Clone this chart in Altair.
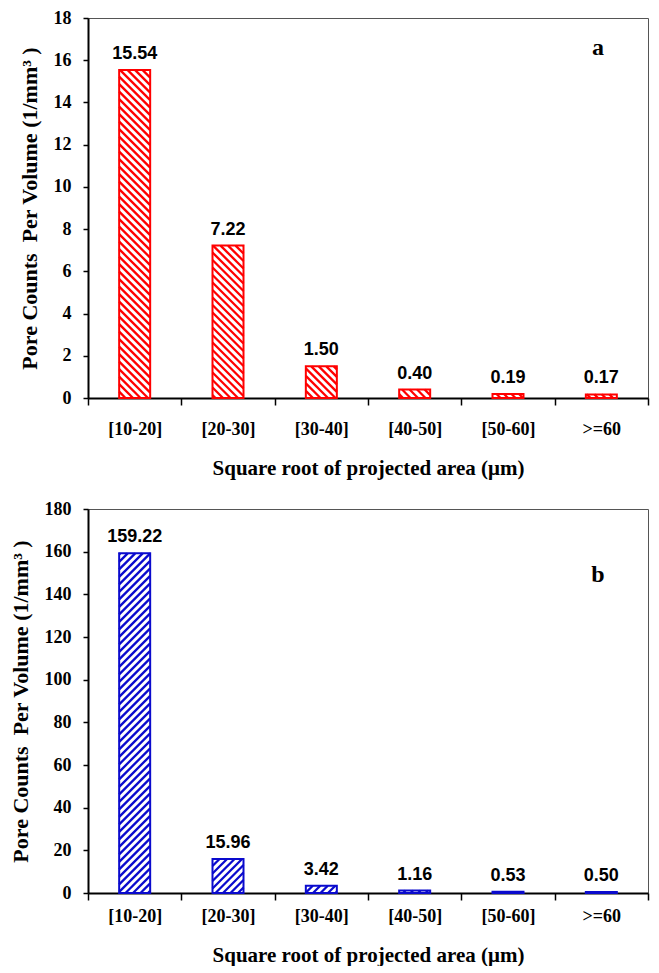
import math
import altair as alt
import pandas as pd

categories = ["[10-20]", "[20-30]", "[30-40]", "[40-50]", "[50-60]", ">=60"]
values_a = [15.54, 7.22, 1.50, 0.40, 0.19, 0.17]
values_b = [159.22, 15.96, 3.42, 1.16, 0.53, 0.50]
labels_a = ["15.54", "7.22", "1.50", "0.40", "0.19", "0.17"]
labels_b = ["159.22", "15.96", "3.42", "1.16", "0.53", "0.50"]
yticks_a = [0, 2, 4, 6, 8, 10, 12, 14, 16, 18]
yticks_b = [0, 20, 40, 60, 80, 100, 120, 140, 160, 180]

Y_TITLE = "Pore Counts \u00a0Per Volume (1/mm³ )"
X_TITLE = "Square root of projected area (μm)"

BAR_PX = 31
SERIF = "Liberation Serif"
SANS = "Liberation Sans"


def hatch_rows(values, W, H, ymax, direction, period=7.5):
    """Diagonal hatch segments inside each bar, converted back to data units."""
    n = len(values)
    step = W / n
    half = BAR_PX / 2
    rows = []
    for i, v in enumerate(values):
        a = (i + 0.5) * step - half
        b = (i + 0.5) * step + half
        t = v * H / ymax
        if direction == "back":  # "\" : x + y = c (y up)
            k0 = math.floor(a / period) + 1
            k1 = math.ceil((b + t) / period)
            for k in range(k0, k1):
                c = k * period
                xs, xe = max(a, c - t), min(b, c)
                if xe > xs:
                    rows.append({"hx": xs / step, "hx2": xe / step,
                                 "v": (c - xs) * ymax / H, "v2": (c - xe) * ymax / H})
        else:  # "/" : y = x + c
            k0 = math.floor(-b / period) + 1
            k1 = math.ceil((t - a) / period)
            for k in range(k0, k1):
                c = k * period
                xs, xe = max(a, -c), min(b, t - c)
                if xe > xs:
                    rows.append({"hx": xs / step, "hx2": xe / step,
                                 "v": (xs + c) * ymax / H, "v2": (xe + c) * ymax / H})
    return pd.DataFrame(rows)


def panel(values, labels, ymax, yticks, W, H, color, direction, letter, lx, ly,
          xlabpad, xtitlepad):
    df = pd.DataFrame({"cat": categories, "v": values, "lab": labels})
    xscale = alt.Scale(paddingInner=0, paddingOuter=0)
    x_axis = alt.X("cat:N", sort=categories, title=X_TITLE, scale=xscale,
                   axis=alt.Axis(labelAngle=0, tickBand="extent",
                                 labelPadding=xlabpad, titlePadding=xtitlepad))
    x_noaxis = alt.X("cat:N", sort=categories, scale=xscale, axis=None)
    yenc = alt.Y("v:Q", title=Y_TITLE,
                 scale=alt.Scale(domain=[0, ymax], nice=False),
                 axis=alt.Axis(values=yticks, grid=False))
    base_fill = alt.Chart(df).mark_bar(size=BAR_PX, fill="white").encode(x=x_noaxis, y=yenc)
    hatch = alt.Chart(hatch_rows(values, W, H, ymax, direction)).mark_rule(
        color=color, strokeWidth=2.3, strokeCap="butt"
    ).encode(
        x=alt.X("hx:Q", scale=alt.Scale(domain=[0, len(values)], nice=False, zero=False), axis=None),
        x2="hx2:Q",
        y=yenc,
        y2="v2:Q",
    )
    outline = alt.Chart(df).mark_bar(size=BAR_PX, fill="transparent", stroke=color,
                                     strokeWidth=2).encode(x=x_axis, y=yenc)
    text = alt.Chart(df).mark_text(font=SANS, fontWeight="bold", fontSize=18,
                                   baseline="bottom", dy=-7, color="black").encode(
        x=x_noaxis, y=yenc, text="lab:N")
    lett = alt.Chart(pd.DataFrame({"t": [letter]})).mark_text(
        font=SERIF, fontWeight="bold", fontSize=24, color="black"
    ).encode(x=alt.value(lx), y=alt.value(ly), text="t:N")
    return alt.layer(base_fill, hatch, outline, text, lett).resolve_scale(
        x="independent").properties(width=W, height=H)


W = 560
Ha, Hb = 380, 384
pa = panel(values_a, labels_a, 18, yticks_a, W, Ha, "#ff0000", "back", "a", 510, 30, 15, 19)
pb = panel(values_b, labels_b, 180, yticks_b, W, Hb, "#0a0acd", "fwd", "b", 510, 66, 7, 19)

chart = alt.concat(pa, pb, columns=1, spacing=20).properties(
    padding={"left": 0, "top": 0, "right": 0, "bottom": 0}
).configure_view(
    stroke="#555", strokeWidth=1
).configure_axis(
    labelFont=SERIF, labelFontWeight="bold", labelFontSize=18, labelColor="black",
    titleFont=SERIF, titleFontWeight="bold", titleColor="black",
    domainColor="black", domainWidth=2, tickColor="black", tickWidth=1.5,
).configure_axisY(
    tickSize=5, labelPadding=12, titlePadding=12, titleFontSize=22,
).configure_axisX(
    tickSize=7, titleFontSize=21,
)

chart.save("out.html", embed_options={"renderer": "svg", "actions": False})
